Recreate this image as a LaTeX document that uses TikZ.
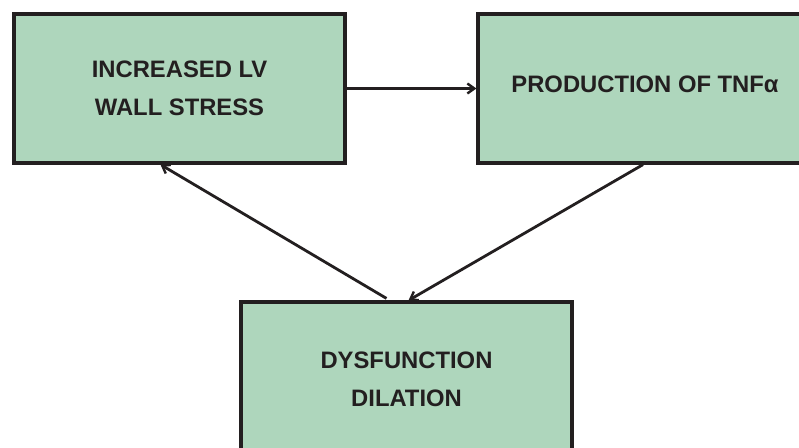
\documentclass[tikz,border=0pt]{standalone}
\usepackage{fontspec}
\setmainfont{Liberation Sans}
\usetikzlibrary{arrows.meta}

\begin{document}
\begin{tikzpicture}[x=1pt, y=-1pt]
  % Define box colors
  \definecolor{boxgreen}{RGB}{174,214,188}
  \definecolor{inkgray}{RGB}{35,31,32}

  \tikzset{
    stagebox/.style={draw=inkgray, fill=boxgreen, line width=3.2pt,
      minimum width=331pt, minimum height=149pt, inner sep=0pt,
      align=center, text=inkgray,
      font=\fontsize{23.8}{38}\selectfont\bfseries},
    flow/.style={draw=inkgray, line width=2.8pt,
      -{Straight Barb[length=7pt, width=10pt, line width=2.4pt]}}
  }

  \useasboundingbox (0,0) rectangle (799,447);

  % Draw the three stages
  \node[stagebox] (stress) at (179.5,88.5) {INCREASED LV\\WALL STRESS};
  \node[stagebox, minimum width=334pt] (tnf) at (645,88.5)
    {\raisebox{8pt}{PRODUCTION OF TNFα}};
  \node[stagebox, minimum height=154pt] (dilation) at (406.5,379)
    {DYSFUNCTION\\DILATION};

  % Draw the cycle
  \draw[flow] (stress.east) -- (tnf.west);
  \draw[flow] ([xshift=-2pt]tnf.south) -- ([xshift=2pt]dilation.north);
  \draw[flow] ([xshift=-20pt,yshift=2pt]dilation.north) -- ([xshift=-19pt]stress.south);
\end{tikzpicture}
\end{document}
